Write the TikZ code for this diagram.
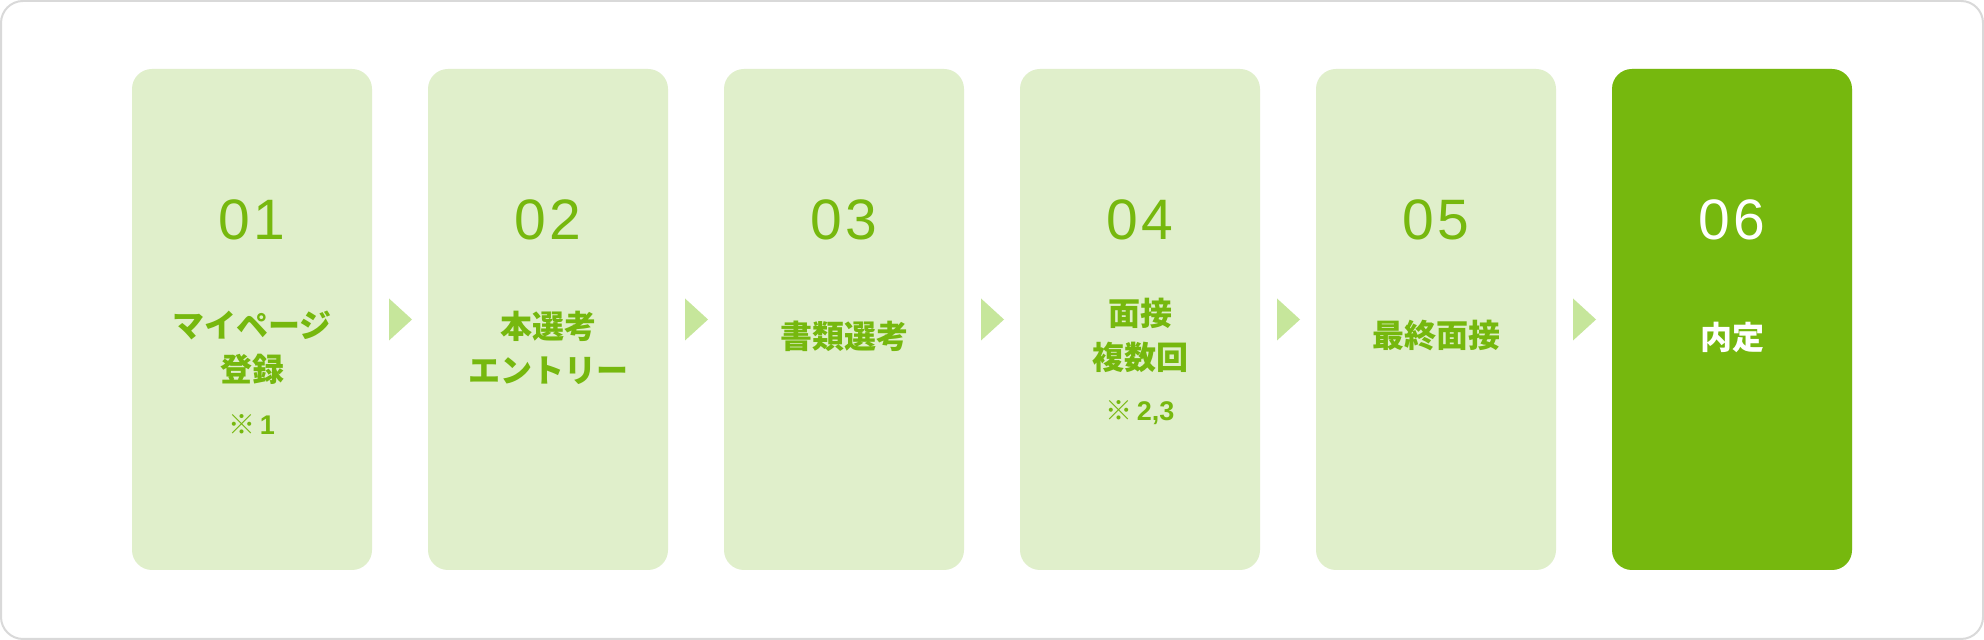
\documentclass[tikz,border=0pt]{standalone}
\usepackage{fontspec}
\setmainfont{Liberation Sans}
\newfontfamily\jpfont{Noto Sans CJK JP}
\newfontfamily\numfont[LetterSpace=6]{Liberation Sans}
\usetikzlibrary{positioning,calc}
\definecolor{stepgreen}{HTML}{76B80E}
\definecolor{steplight}{HTML}{E0EFCB}
\definecolor{arrowlight}{HTML}{C6E69B}
\definecolor{framegray}{HTML}{D9D9D9}

\begin{document}
\begin{tikzpicture}
[x=0.5pt,y=0.5pt,%
  every node/.style={inner sep=0pt,outer sep=0pt},%
  stepbox/.style={rectangle,rounded corners=10pt,fill=steplight,
    minimum width=120pt,minimum height=250.5pt},%
  numlabel/.style={text=stepgreen,font=\numfont\fontsize{28.5pt}{30pt}\selectfont},%
  steplabel/.style={text=stepgreen,align=center,
    font=\jpfont\bfseries\fontsize{16pt}{22pt}\selectfont},%
  notelabel/.style={text=stepgreen,font=\fontsize{13.5pt}{16pt}\selectfont}]
\useasboundingbox (0,0) rectangle (1984,640);
\draw[framegray,line width=1pt,rounded corners=11pt,fill=white] (1,1) rectangle (1983,639);
%%
\foreach \i/\num in {1/01,2/02,3/03,4/04,5/05,6/06}
{
  \node[stepbox] (s\i) at ({252+296*(\i-1)},320.5) {};
  \node[numlabel] (n\i) at ({252+296*(\i-1)},420) {\num};
}
\node[stepbox,fill=stepgreen] at (s6) {};
\node[numlabel,text=white] at (n6) {06};
%%
\node[steplabel] (l1) at (252,292.5) {マイページ\\登録};
\node[notelabel] (m1) at (252,215) {{\jpfont ※}\hspace{2pt}\bfseries 1};
\node[steplabel] (l2) at (548,292) {本選考\\エントリー};
\node[steplabel] (l3) at (844,304) {書類選考};
\node[steplabel] (l4) at (1140,304.5) {面接\\複数回};
\node[notelabel] (m4) at (1140,227) {{\jpfont ※}\hspace{2pt}\bfseries 2,3};
\node[steplabel] (l5) at (1436,304) {最終面接};
\node[steplabel,text=white] (l6) at (1732,303) {内定};
%%
\foreach \a/\b in {1/2,2/3,3/4,4/5,5/6}
{
  \fill[arrowlight] ($(s\a.east)+(17,-21)$) -- ++(23,21) -- ++(-23,21) -- cycle;
};
\end{tikzpicture}
\end{document}
